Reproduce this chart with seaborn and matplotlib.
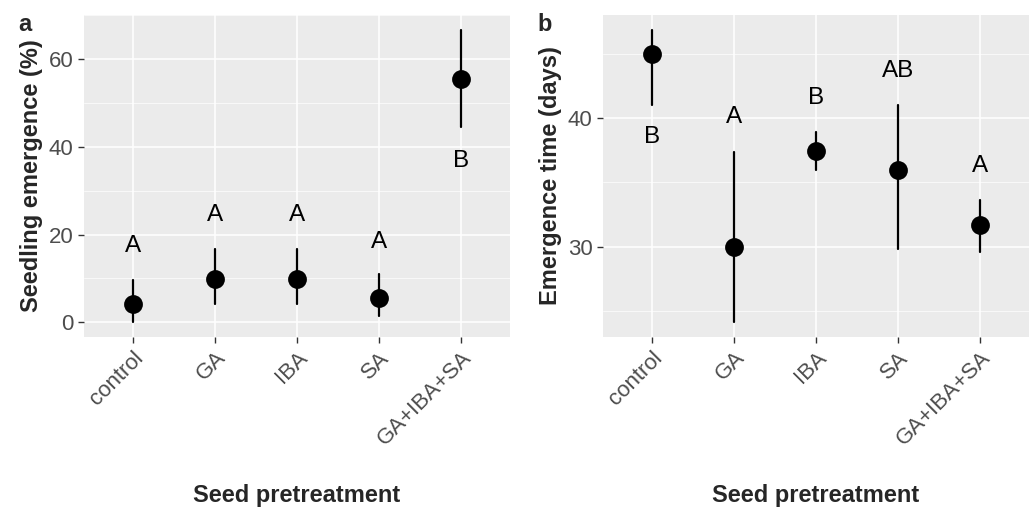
import pandas as pd
import matplotlib
matplotlib.use("Agg")
import matplotlib.pyplot as plt
from matplotlib.ticker import MultipleLocator
import seaborn as sns

treatments = ['control', 'GA', 'IBA', 'SA', 'GA+IBA+SA']

# panel a: seedling emergence (%)
emerg_mean = [4.2, 9.9, 9.9, 5.5, 55.5]
emerg_low = [0.0, 4.2, 4.2, 1.4, 44.5]
emerg_high = [9.7, 16.7, 16.7, 11.0, 66.7]
emerg_letters = ['A', 'A', 'A', 'A', 'B']
emerg_letter_y = [17.3, 24.5, 24.5, 18.3, 36.7]

# panel b: emergence time (days)
time_mean = [45.0, 30.0, 37.45, 36.0, 31.65]
time_low = [41.0, 24.1, 36.0, 29.85, 29.6]
time_high = [46.9, 37.4, 38.9, 41.0, 33.6]
time_letters = ['B', 'A', 'B', 'AB', 'A']
time_letter_y = [38.5, 40.1, 41.6, 43.7, 36.3]

sns.set_theme(style='darkgrid', rc={'axes.facecolor': '#EBEBEB', 'grid.color': 'white'})
plt.rcParams['font.family'] = ['Liberation Sans', 'DejaVu Sans']


def long_table(low, mean, high):
    rows = []
    for t, lo, m, hi in zip(treatments, low, mean, high):
        for v in (lo, m, hi):
            rows.append({'treatment': t, 'value': v})
    return pd.DataFrame(rows)


fig = plt.figure(figsize=(10.3, 5.08), dpi=100)
W, H = 1030, 508
ax_a = fig.add_axes([84 / W, 1 - 337 / H, 426 / W, 322 / H])
ax_b = fig.add_axes([603 / W, 1 - 337 / H, 426 / W, 322 / H])

panels = [
    (ax_a, long_table(emerg_low, emerg_mean, emerg_high), emerg_letters, emerg_letter_y,
     'Seedling emergence (%)', (-3.33, 70.03), 20, 10),
    (ax_b, long_table(time_low, time_mean, time_high), time_letters, time_letter_y,
     'Emergence time (days)', (22.96, 48.04), 10, 5),
]

for ax, df, letters, letter_y, ylabel, ylim, major, minor in panels:
    # median of (low, mean, high) is the mean; the 100% interval is low..high
    sns.pointplot(data=df, x='treatment', y='value', order=treatments,
                  estimator='median', errorbar=('pi', 100), color='black',
                  markers='o', linestyle='none', markersize=11.5,
                  err_kws={'linewidth': 1.6}, ax=ax)
    for i, (s, y) in enumerate(zip(letters, letter_y)):
        ax.text(i, y, s, ha='center', va='center', fontsize=17.5, color='black')
    ax.set_xlim(-0.6, 4.6)
    ax.set_ylim(*ylim)
    ax.yaxis.set_major_locator(MultipleLocator(major))
    ax.yaxis.set_minor_locator(MultipleLocator(minor))
    ax.grid(True, which='major', color='white', linewidth=1.1)
    ax.yaxis.grid(True, which='minor', color='white', linewidth=0.5)
    ax.set_axisbelow(True)
    for sp in ax.spines.values():
        sp.set_visible(False)
    ax.tick_params(which='major', length=4.5, width=1.0, color='#333333',
                   labelcolor='#4D4D4D', labelsize=16, pad=3,
                   bottom=True, left=True)
    ax.tick_params(which='minor', length=0)
    plt.setp(ax.get_xticklabels(), rotation=45, ha='right', rotation_mode='anchor')
    ax.set_xlabel('Seed pretreatment', fontsize=17, fontweight='bold', va='baseline')
    ax.xaxis.set_label_coords(0.5, -(502 - 337) / 322)
    ax.set_ylabel(ylabel, fontsize=17, fontweight='bold', labelpad=4)

fig.text(18 / W, 1 - 31 / H, 'a', fontsize=17, fontweight='bold', ha='left', va='baseline')
fig.text(537 / W, 1 - 31 / H, 'b', fontsize=17, fontweight='bold', ha='left', va='baseline')

fig.savefig('out.png', dpi=100)
